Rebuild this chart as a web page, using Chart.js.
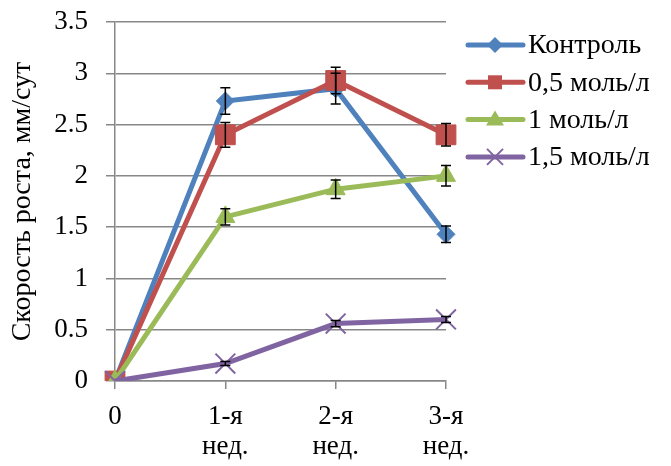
<!DOCTYPE html>
<html>
<head>
<meta charset="utf-8">
<script src="https://cdn.jsdelivr.net/npm/chart.js@4.4.0/dist/chart.umd.min.js"></script>
<style>
  html, body { margin: 0; padding: 0; background: #fff; }
  #wrap { width: 671px; height: 466px; }
</style>
</head>
<body>
<div id="wrap"><canvas id="chart"></canvas></div>
<script>
const weeks = ['0', ['1-я', 'нед.'], ['2-я', 'нед.'], ['3-я', 'нед.']];
const seriesNames = ['Контроль', '0,5 моль/л', '1 моль/л', '1,5 моль/л'];

const control = [0, 2.73, 2.85, 1.43];
const mol05 = [0, 2.40, 2.93, 2.40];
const mol1 = [0, 1.60, 1.87, 2.00];
const mol15 = [0, 0.17, 0.56, 0.60];

const controlErr = [0, 0.13, 0.15, 0.08];
const mol05Err = [0, 0.12, 0.13, 0.11];
const mol1Err = [0, 0.08, 0.09, 0.10];
const mol15Err = [0, 0.02, 0.03, 0.03];

const colors = ['#4F81BD', '#C0504D', '#9BBB59', '#8064A2'];
const FONT = '"Liberation Serif", "Times New Roman", serif';
const FS = 27;

// error bars drawn on top of the lines
const errorBars = {
  id: 'errorBars',
  afterDatasetsDraw(chart) {
    const ctx = chart.ctx;
    const y = chart.scales.y;
    ctx.save();
    ctx.strokeStyle = '#000';
    ctx.lineWidth = 1.5;
    chart.data.datasets.forEach((ds, i) => {
      const meta = chart.getDatasetMeta(i);
      ds.errors.forEach((e, j) => {
        if (!e) return;
        const px = meta.data[j].x;
        const top = y.getPixelForValue(ds.data[j] + e);
        const bot = y.getPixelForValue(ds.data[j] - e);
        ctx.beginPath();
        ctx.moveTo(px, top); ctx.lineTo(px, bot);
        ctx.moveTo(px - 5, top); ctx.lineTo(px + 5, top);
        ctx.moveTo(px - 5, bot); ctx.lineTo(px + 5, bot);
        ctx.stroke();
      });
    });
    ctx.restore();
  }
};

// legend with a line and a marker in the middle, like in Excel
const sideLegend = {
  id: 'sideLegend',
  afterDraw(chart) {
    const ctx = chart.ctx;
    ctx.save();
    ctx.font = '28px ' + FONT;
    ctx.textBaseline = 'middle';
    chart.data.datasets.forEach((ds, i) => {
      const yy = 45 + i * 37.3;
      const c = colors[i];
      ctx.strokeStyle = c;
      ctx.lineWidth = 5;
      ctx.lineCap = 'round';
      ctx.beginPath();
      ctx.moveTo(468, yy); ctx.lineTo(523, yy);
      ctx.stroke();
      ctx.fillStyle = c;
      const mx = 495;
      ctx.beginPath();
      if (i === 0) {
        ctx.moveTo(mx, yy - 8); ctx.lineTo(mx + 8, yy); ctx.lineTo(mx, yy + 8); ctx.lineTo(mx - 8, yy);
        ctx.closePath(); ctx.fill();
      } else if (i === 1) {
        ctx.rect(mx - 7, yy - 7, 14, 14); ctx.fill();
      } else if (i === 2) {
        ctx.moveTo(mx, yy - 9); ctx.lineTo(mx + 9, yy + 6); ctx.lineTo(mx - 9, yy + 6);
        ctx.closePath(); ctx.fill();
      } else {
        ctx.lineWidth = 2;
        ctx.lineCap = 'butt';
        ctx.moveTo(mx - 8, yy - 8); ctx.lineTo(mx + 8, yy + 8);
        ctx.moveTo(mx + 8, yy - 8); ctx.lineTo(mx - 8, yy + 8);
        ctx.stroke();
      }
      ctx.fillStyle = '#000';
      ctx.fillText(seriesNames[i], 528, yy + 1);
    });
    ctx.restore();
  }
};

const makeSet = (i, data, errors, style, radius, order) => ({
  label: seriesNames[i],
  data: data,
  errors: errors,
  borderColor: colors[i],
  backgroundColor: colors[i],
  pointBorderColor: colors[i],
  pointBackgroundColor: colors[i],
  borderWidth: 5,
  pointStyle: style,
  pointRadius: radius,
  pointBorderWidth: style === 'crossRot' ? 2 : 1,
  tension: 0,
  order: order
});

new Chart(document.getElementById('chart'), {
  type: 'line',
  data: {
    labels: weeks,
    datasets: [
      makeSet(0, control, controlErr, 'rectRot', 9, 4),
      makeSet(1, mol05, mol05Err, 'rect', 14, 3),
      makeSet(2, mol1, mol1Err, 'triangle', 11, 2),
      makeSet(3, mol15, mol15Err, 'crossRot', 14, 1)
    ]
  },
  options: {
    responsive: true,
    maintainAspectRatio: false,
    animation: false,
    layout: { padding: { left: 0, top: 22, right: 225, bottom: 0 } },
    plugins: {
      legend: { display: false },
      tooltip: { enabled: false }
    },
    scales: {
      x: {
        offset: false,
        afterFit: s => { s.height = 85; s.paddingLeft = 0; s.paddingRight = 0; },
        grid: { display: true, drawOnChartArea: false, drawTicks: true, tickLength: 8, color: '#888', lineWidth: 1.5 },
        border: { color: '#888', width: 1.5 },
        ticks: {
          color: '#000', maxRotation: 0, autoSkip: false, padding: 13,
          font: { family: FONT, size: FS, lineHeight: 1.1 }
        }
      },
      y: {
        min: 0, max: 3.5,
        afterFit: s => { s.width = 115; s.paddingTop = 0; s.paddingBottom = 0; },
        grid: { color: '#888', lineWidth: 1.5, tickLength: 9 },
        border: { color: '#888', width: 1.5 },
        ticks: {
          stepSize: 0.5, color: '#000', padding: 18,
          font: { family: FONT, size: FS },
          callback: v => String(v)
        },
        title: {
          display: true,
          text: 'Скорость роста, мм/сут',
          color: '#000',
          padding: { top: 6, bottom: 0 },
          font: { family: FONT, size: 28 }
        }
      }
    }
  },
  plugins: [errorBars, sideLegend]
});
</script>
</body>
</html>
